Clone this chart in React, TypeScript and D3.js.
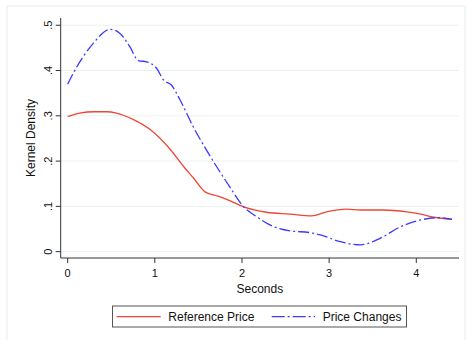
import * as d3 from 'd3'

// Kernel density estimates
const refX = [0, 0.14, 0.3, 0.45, 0.56, 0.75, 0.95, 1.18, 1.33, 1.45, 1.576, 1.7, 1.83, 2.02, 2.28, 2.55, 2.8, 2.97, 3.2, 3.36, 3.62, 3.89, 4.05, 4.2, 4.41]
const refY = [0.298, 0.306, 0.309, 0.309, 0.306, 0.292, 0.269, 0.225, 0.188, 0.161, 0.132, 0.124, 0.115, 0.099, 0.087, 0.083, 0.079, 0.088, 0.094, 0.092, 0.092, 0.088, 0.083, 0.076, 0.072]

const chgX = [0, 0.084, 0.294, 0.486, 0.6, 0.715, 0.81, 0.907, 1.02, 1.1, 1.19, 1.29, 1.44, 1.6, 1.86, 2.02, 2.17, 2.32, 2.55, 2.78, 2.9, 3.13, 3.36, 3.59, 3.82, 4.05, 4.24, 4.41]
const chgY = [0.37, 0.401, 0.46, 0.491, 0.482, 0.452, 0.422, 0.419, 0.405, 0.379, 0.368, 0.335, 0.276, 0.222, 0.143, 0.099, 0.077, 0.059, 0.046, 0.042, 0.037, 0.022, 0.015, 0.03, 0.055, 0.07, 0.075, 0.0715]

const xTicks = [0, 1, 2, 3, 4]
const yTicks = [0, 0.1, 0.2, 0.3, 0.4, 0.5]
const yTickLabels = ['0', '.1', '.2', '.3', '.4', '.5']

const FONT = '"Liberation Sans", Arial, sans-serif'
const RED = '#f04535'
const BLUE = '#3a3aff'

export default function App() {
  const width = 466
  const height = 340
  const left = 60.7
  const right = 459
  const top = 18
  const bottom = 258

  const x = d3.scaleLinear().domain([-0.08, 4.49]).range([left, right])
  const y = d3.scaleLinear().domain([-0.014, 0.516]).range([bottom, top])

  const line = d3.line<[number, number]>()
    .x(d => x(d[0]))
    .y(d => y(d[1]))
    .curve(d3.curveMonotoneX)

  const refPath = line(refX.map((v, i) => [v, refY[i]] as [number, number])) || ''
  const chgPath = line(chgX.map((v, i) => [v, chgY[i]] as [number, number])) || ''

  return (
    <svg width={width} height={height} style={{ position: 'absolute', left: 0, top: 0, background: '#fff' }} fontFamily={FONT}>
      <rect x={7} y={6} width={458} height={340} fill="none" stroke="#e6eef0" />

      {/* grid */}
      {yTicks.map((t, i) => (
        <line key={`g${i}`} x1={left} x2={right} y1={y(t)} y2={y(t)} stroke="#e9f1f3" strokeWidth={1} />
      ))}

      {/* axes */}
      <line x1={left} x2={left} y1={top} y2={bottom} stroke="#333" strokeWidth={1} />
      <line x1={left} x2={right} y1={bottom} y2={bottom} stroke="#333" strokeWidth={1} />

      {yTicks.map((t, i) => (
        <g key={`y${i}`}>
          <line x1={left - 5} x2={left} y1={y(t)} y2={y(t)} stroke="#333" />
          <text
            transform={`translate(${left - 9},${y(t)}) rotate(-90)`}
            textAnchor="middle"
            fontSize={11}
            fill="#111"
          >
            {yTickLabels[i]}
          </text>
        </g>
      ))}

      {xTicks.map(t => (
        <g key={`x${t}`}>
          <line x1={x(t)} x2={x(t)} y1={bottom} y2={bottom + 5} stroke="#333" />
          <text x={x(t)} y={bottom + 19} textAnchor="middle" fontSize={11} fill="#111">{t}</text>
        </g>
      ))}

      <text x={(left + right) / 2} y={293} textAnchor="middle" fontSize={12} fill="#111">Seconds</text>
      <text transform={`translate(35,${(top + bottom) / 2}) rotate(-90)`} textAnchor="middle" fontSize={12} fill="#111">
        Kernel Density
      </text>

      {/* series */}
      <path d={refPath} fill="none" stroke={RED} strokeWidth={1.3} />
      <path d={chgPath} fill="none" stroke={BLUE} strokeWidth={1.3} strokeDasharray="11 3 2 3" />

      {/* legend */}
      <rect x={112.5} y={306} width={294} height={21} fill="#fff" stroke="#555" strokeWidth={1} />
      <line x1={116.7} x2={160.7} y1={316.7} y2={316.7} stroke={RED} strokeWidth={1.3} />
      <text x={168.3} y={321} fontSize={12} fill="#111">Reference Price</text>
      <line x1={271.7} x2={315} y1={316.7} y2={316.7} stroke={BLUE} strokeWidth={1.3} strokeDasharray="13 3 2 3" />
      <text x={322.7} y={321} fontSize={12} fill="#111">Price Changes</text>
    </svg>
  )
}
